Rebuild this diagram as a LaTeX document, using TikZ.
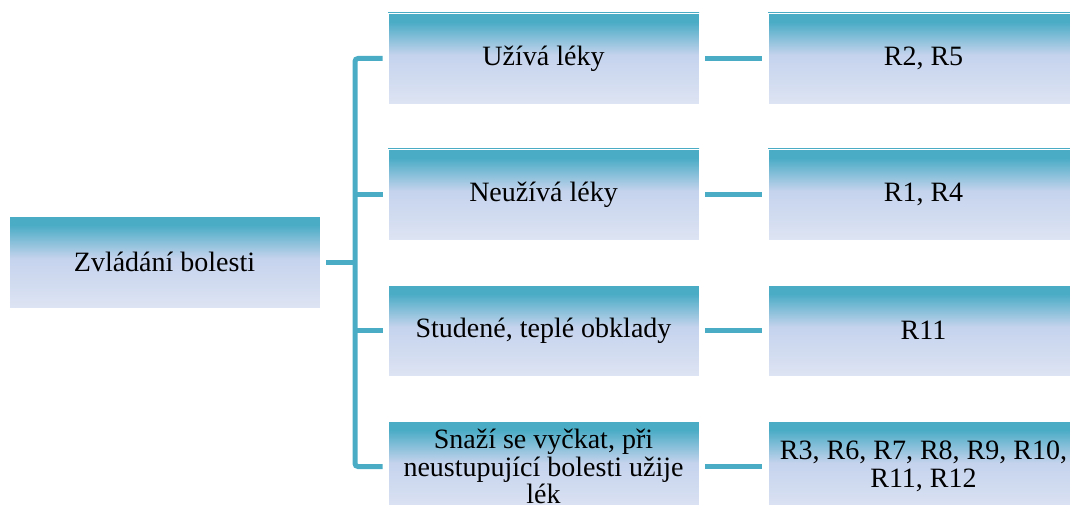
\documentclass[tikz,border=0pt]{standalone}
\usepackage{fontspec}
\setmainfont{Liberation Serif}
\definecolor{accent}{RGB}{75,172,198}
\definecolor{midfill}{RGB}{197,211,237}
\definecolor{lowfill}{RGB}{221,228,243}
% box fill: teal at the top, fading to pale blue-lavender
\pgfdeclareverticalshading{boxfill}{100bp}{%
  color(0bp)=(lowfill); color(25bp)=(lowfill);
  color(52bp)=(midfill); color(70bp)=(accent); color(100bp)=(accent)}
\tikzset{
  itembox/.style={shading=boxfill, draw=white, line width=0.8pt,
    minimum width=311pt, minimum height=91pt, inner sep=2pt,
    align=center, font=\fontsize{28}{27.5}\selectfont},
  conn/.style={draw=accent, line width=5pt}
}
\begin{document}
\begin{tikzpicture}[x=1pt,y=-1pt]
\useasboundingbox (0,0) rectangle (1070,505);
\clip (0,0) rectangle (1070,505);

% root
\node[itembox, minimum height=92pt] (root) at (164.5,262) {Zvládání bolesti};

% categories
\node[itembox] (m1) at (543.5,58.5) {Užívá léky};
\node[itembox] (m2) at (543.5,194.5) {Neužívá léky};
\node[itembox] (m3) at (543.5,330.5) {Studené, teplé obklady};
\node[itembox] (m4) at (543.5,466.5) {Snaží se vyčkat, při\\neustupující bolesti užije\\lék};

% respondents
\node[itembox] (r1) at (923.5,58.5) {R2, R5};
\node[itembox] (r2) at (923.5,194.5) {R1, R4};
\node[itembox] (r3) at (923.5,330.5) {R11};
\node[itembox] (r4) at (923.5,466.5) {R3, R6, R7, R8, R9, R10,\\R11, R12};

% tree bus
\coordinate (bus) at (355,262);
\draw[conn, rounded corners=3pt, shorten <=5pt, shorten >=5pt]
  (m1.west) -- (bus |- m1.west) -- (bus |- m4.west) -- (m4.west);
\draw[conn, shorten >=5pt] (bus |- m2.west) -- (m2.west);
\draw[conn, shorten >=5pt] (bus |- m3.west) -- (m3.west);
\draw[conn, shorten <=6pt] (root.east) -- (bus |- root.east);

% category to respondents
\foreach \i in {1,2,3,4}
  \draw[conn, shorten <=6pt, shorten >=6pt] (m\i.east) -- (r\i.west);
\end{tikzpicture}
\end{document}
